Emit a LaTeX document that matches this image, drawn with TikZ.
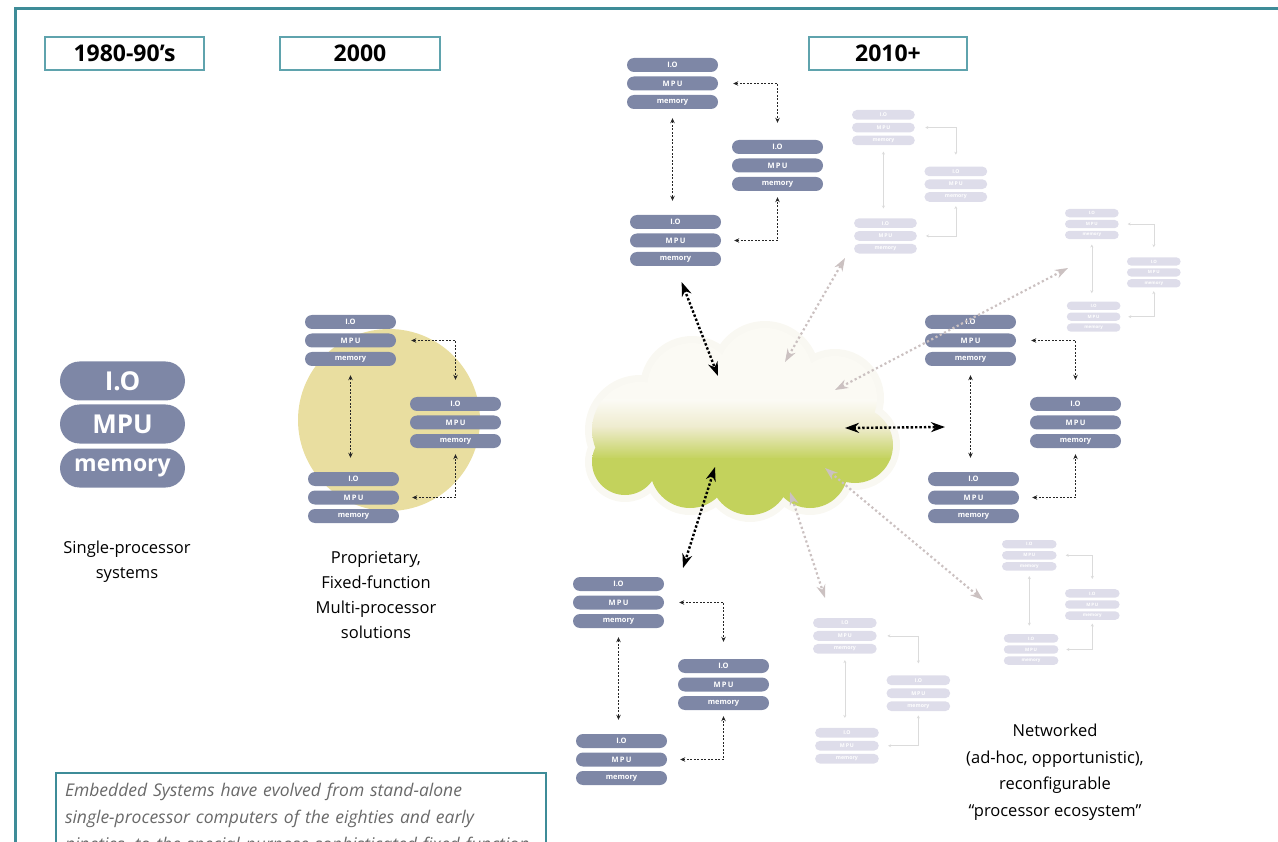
\documentclass[tikz,border=0pt]{standalone}
\usepackage{fontspec}
\setmainfont{Open Sans}
\usetikzlibrary{arrows.meta,shapes.misc}

\definecolor{framecol}{RGB}{62,140,152}
\definecolor{boxcol}{RGB}{95,163,173}
\definecolor{pillblue}{RGB}{126,135,166}
\definecolor{pillfaint}{RGB}{222,221,234}
\definecolor{sunny}{RGB}{233,222,160}
\definecolor{cloudtop}{RGB}{251,250,244}
\definecolor{cloudmid}{RGB}{238,235,205}
\definecolor{cloudgreen}{RGB}{195,210,92}
\definecolor{cloudhalo}{RGB}{249,248,242}
\definecolor{paletip}{RGB}{203,193,193}
\definecolor{notegray}{RGB}{105,105,105}

\tikzset{
  pill/.style={rounded rectangle, fill=pillblue, text=white, font=\bfseries\fontsize{7.5}{7.5}\selectfont,
    minimum width=91pt, minimum height=14pt, inner sep=0pt, transform shape},
  faintpill/.style={pill, fill=pillfaint},
  bigpill/.style={pill, minimum width=125pt, minimum height=39pt,
    font=\bfseries\fontsize{26}{26}\selectfont},
  link/.style={black!85, line width=0.8pt, dash pattern=on 2pt off 1.5pt,
    {Stealth[length=5pt,width=4.5pt]}-{Stealth[length=5pt,width=4.5pt]}},
  faintlink/.style={black!14, line width=0.6pt,
    {Stealth[length=3pt,width=3pt]}-{Stealth[length=3pt,width=3pt]}},
  bigarrow/.style={black, line width=2.4pt, dash pattern=on 2.4pt off 2pt,
    {Stealth[length=14pt,width=10pt]}-{Stealth[length=14pt,width=10pt]}},
  fadearrow/.style={paletip, line width=2.2pt, dash pattern=on 2.2pt off 2.6pt,
    {Stealth[length=13pt,width=9pt]}-{Stealth[length=13pt,width=9pt]}},
  yearbox/.style={draw=boxcol, line width=1.3pt, fill=white, minimum height=33pt,
    inner sep=0pt, font=\bfseries\fontsize{23}{23}\selectfont},
  caption/.style={align=center, font=\fontsize{16.5}{25}\selectfont},
  note/.style={draw=framecol, line width=2pt, anchor=north west, text width=472pt,
    inner xsep=9pt, inner ysep=10pt, align=left, text=notegray,
    font=\itshape\fontsize{17.5}{27}\selectfont}
}

% three processors: a (top left), b (right), c (bottom left)
\newcommand{\procgroup}[5]{%
  \begin{scope}[shift={#2}, scale=#3]
    \foreach \part/\dx/\dy in {a/0/0, b/105/82, c/3/157}{
      \node[#4] (#1-\part-io)  at (\dx+45.5, \dy+7)    {I.O};
      \node[#4] (#1-\part-mpu) at (\dx+45.5, \dy+25.5) {M\,P\,U};
      \node[#4] (#1-\part-mem) at (\dx+45.5, \dy+44)   {memory};
    }
  \end{scope}
  \draw[#5, shorten <=#3*15pt, shorten >=#3*17pt] (#1-a-mpu.east) -| (#1-b-io.north);
  \draw[#5, shorten <=#3*9pt, shorten >=#3*14pt] (#1-a-mem.south) -- (#1-a-mem.south |- #1-c-io.north);
  \draw[#5, shorten <=#3*13pt, shorten >=#3*6pt] (#1-c-mpu.east) -| (#1-b-mem.south);
}

\begin{document}
\begin{tikzpicture}[x=1pt, y=-1pt]
  \useasboundingbox (0,0) rectangle (1278,842);
  \clip (0,0) rectangle (1278,842);

  % Marco
  \draw[framecol, line width=3pt] (1280,9) -- (15,9) -- (15,845);

  % Circulo amarillo (2000)
  \fill[sunny] (389,420) circle (91);

  % Nube
  \fill[cloudhalo] foreach \cx/\cy/\r in {640/430/48, 692/388/45, 765/376/48, 835/398/42,
      855/445/38, 625/462/33, 690/468/40, 750/475/40, 810/470/38, 760/430/65}
    {(\cx,\cy) circle (\r+7)};
  \begin{scope}
    \clip foreach \cx/\cy/\r in {640/430/48, 692/388/45, 765/376/48, 835/398/42,
      855/445/38, 625/462/33, 690/468/40, 750/475/40, 810/470/38, 760/430/65}
      {(\cx,\cy) circle (\r)};
    \fill[cloudtop] (580,320) rectangle (910,402);
    \shade[top color=cloudtop, bottom color=cloudmid] (580,400) rectangle (910,428);
    \shade[top color=cloudmid, bottom color=cloudgreen] (580,427) rectangle (910,459);
    \fill[cloudgreen] (580,458) rectangle (910,530);
  \end{scope}

  % Sistema de un procesador
  \node[bigpill] (big-io)  at (122.5,381) {I.O};
  \node[bigpill] (big-mpu) at (122.5,424) {MPU};
  \node[bigpill, font=\bfseries\fontsize{23}{23}\selectfont] (big-mem) at (122.5,468) {memory};

  % Grupos de procesadores
  \procgroup{m}{(305,315)}{1}{pill}{link}
  \procgroup{t}{(627,58)}{1}{pill}{link}
  \procgroup{r}{(925,315)}{1}{pill}{link}
  \procgroup{b}{(573,577)}{1}{pill}{link}

  % Grupos lejanos
  \procgroup{fa}{(852,110)}{0.69}{faintpill}{faintlink}
  \procgroup{fb}{(1065,209)}{0.59}{faintpill}{faintlink}
  \procgroup{fc}{(1002,540)}{0.6}{faintpill}{faintlink}
  \procgroup{fd}{(813,618)}{0.7}{faintpill}{faintlink}

  % Puntos de la nube
  \coordinate (cl-top)    at (718,376);
  \coordinate (cl-right)  at (845,428);
  \coordinate (cl-bottom) at (715,467);
  \coordinate (r-port)    at (945,427);
  \coordinate (b-port)    at (683,568);
  \coordinate (cl-fa) at (785,362);  \coordinate (fa-port) at (845,258);
  \coordinate (cl-fb) at (835,390);  \coordinate (fb-port) at (1068,268);
  \coordinate (cl-fc) at (825,468);  \coordinate (fc-port) at (983,600);
  \coordinate (cl-fd) at (790,492);  \coordinate (fd-port) at (825,598);

  % Flechas tenues
  \draw[fadearrow] (cl-fa) -- (fa-port);
  \draw[fadearrow] (cl-fb) -- (fb-port);
  \draw[fadearrow] (cl-fc) -- (fc-port);
  \draw[fadearrow] (cl-fd) -- (fd-port);

  % Flechas negras
  \draw[bigarrow, shorten <=17pt] (t-c-mem.south) -- (cl-top);
  \draw[bigarrow] (cl-right) -- (r-port);
  \draw[bigarrow] (cl-bottom) -- (b-port);

  % Epocas
  \node[yearbox, minimum width=159pt] (era80) at (124.5,53.5) {1980-90’s};
  \node[yearbox, minimum width=160pt] (era00) at (360,53.5) {2000};
  \node[yearbox, minimum width=158pt] (era10) at (888,53.5) {2010+};

  % Rotulos
  \node[caption] (single) at (127,561.5) {Single-processor\\systems};
  \node[caption] (proprietary) at (376,595.5) {Proprietary,\\Fixed-function\\Multi-processor\\solutions};
  \node[caption, font=\fontsize{16.5}{26.5}\selectfont] (networked) at (1055,772)
    {Networked\\(ad-hoc, opportunistic),\\reconfigurable\\“processor ecosystem”};

  % Nota inferior
  \node[note] (summary) at (55,772) {Embedded Systems have evolved from stand-alone\\
    single-processor computers of the eighties and early\\
    nineties, to the special purpose sophisticated fixed function};
\end{tikzpicture}
\end{document}
